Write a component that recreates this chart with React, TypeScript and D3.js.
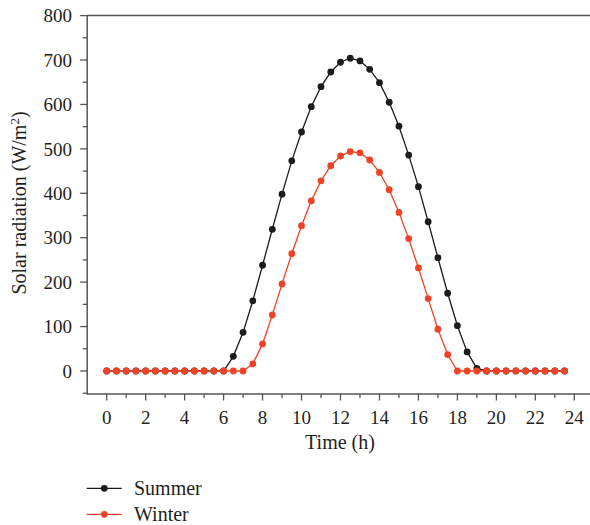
import React from "react";
import * as d3 from "d3";

const hours: number[] = d3.range(0, 24, 0.5);

const summerValues: number[] = [
  0, 0, 0, 0, 0, 0, 0, 0, 0, 0, 0, 0,
  0, 33, 87, 158, 238, 319, 398, 473, 538, 595, 640, 673,
  695, 704, 698, 679, 649, 605, 551, 486, 415, 336, 255, 175,
  102, 43, 6, 0, 0, 0, 0, 0, 0, 0, 0, 0,
];

const winterValues: number[] = [
  0, 0, 0, 0, 0, 0, 0, 0, 0, 0, 0, 0,
  0, 0, 0, 16, 61, 126, 196, 264, 327, 383, 428, 462,
  484, 494, 491, 475, 447, 408, 357, 298, 232, 163, 94, 37,
  0, 0, 0, 0, 0, 0, 0, 0, 0, 0, 0, 0,
];

const xTickLabels: number[] = [0, 2, 4, 6, 8, 10, 12, 14, 16, 18, 20, 22, 24];
const yTickLabels: number[] = [0, 100, 200, 300, 400, 500, 600, 700, 800];

const seriesNames = ["Summer", "Winter"];
const seriesColors = ["#1c1c1c", "#ee4326"];

const W = 590;
const H = 525;
const FONT = "'Liberation Serif', 'Times New Roman', serif";

export default function App() {
  const x = d3.scaleLinear().domain([-1, 24]).range([87.2, 574.3]);
  const y = d3.scaleLinear().domain([-50, 800]).range([393.2, 15.6]);
  const x0 = 87.2;
  const yBottom = 394;
  const yTop = 15.6;
  const right = 600;

  const series = [summerValues, winterValues];
  const line = d3
    .line<[number, number]>()
    .x((d) => x(d[0]))
    .y((d) => y(d[1]));

  const minorX = d3.range(1, 25, 2);
  const minorY = d3.range(-50, 800, 100);
  const axisColor = "#555";

  return (
    <svg
      width={W}
      height={H}
      style={{ position: "absolute", left: 0, top: 0, background: "#fff" }}
      fontFamily={FONT}
    >
      {/* series */}
      {series.map((vals, si) => {
        const pts: [number, number][] = hours.map((h, i) => [h, vals[i]]);
        return (
          <g key={si}>
            <path d={line(pts) || ""} fill="none" stroke={seriesColors[si]} strokeWidth={1.3} />
            {pts.map((p, i) => (
              <circle key={i} cx={x(p[0])} cy={y(p[1])} r={3.4} fill={seriesColors[si]} />
            ))}
          </g>
        );
      })}

      {/* axes */}
      <line x1={x0} x2={right} y1={yTop} y2={yTop} stroke={axisColor} strokeWidth={1.5} />
      <line x1={x0} x2={right} y1={yBottom} y2={yBottom} stroke={axisColor} strokeWidth={1.5} />
      <line x1={x0} x2={x0} y1={yTop - 0.7} y2={yBottom + 0.7} stroke={axisColor} strokeWidth={1.5} />

      {/* x ticks */}
      {xTickLabels.map((t) => (
        <g key={"xt" + t}>
          <line x1={x(t)} x2={x(t)} y1={yBottom} y2={yBottom + 6.5} stroke={axisColor} strokeWidth={1.3} />
          <text x={x(t)} y={424} textAnchor="middle" fontSize={19} fill="#231f20">
            {t}
          </text>
        </g>
      ))}
      {minorX.map((t) => (
        <line key={"xm" + t} x1={x(t)} x2={x(t)} y1={yBottom} y2={yBottom + 4} stroke={axisColor} strokeWidth={1.3} />
      ))}

      {/* y ticks */}
      {yTickLabels.map((t) => (
        <g key={"yt" + t}>
          <line x1={x0 - 7} x2={x0} y1={y(t)} y2={y(t)} stroke={axisColor} strokeWidth={1.3} />
          <text x={72} y={y(t)} dy="0.35em" textAnchor="end" fontSize={19} fill="#231f20">
            {t}
          </text>
        </g>
      ))}
      {minorY.map((t) => (
        <line key={"ym" + t} x1={x0 - 4.5} x2={x0} y1={y(t)} y2={y(t)} stroke={axisColor} strokeWidth={1.3} />
      ))}

      {/* axis labels */}
      <text x={340} y={449} textAnchor="middle" fontSize={20} fill="#231f20">
        Time (h)
      </text>
      <text
        transform={`translate(26, 203) rotate(-90)`}
        textAnchor="middle"
        fontSize={20}
        fill="#231f20"
      >
        Solar radiation (W/m
        <tspan dy={-7} fontSize={13}>2</tspan>
        <tspan dy={7}>)</tspan>
      </text>

      {/* legend */}
      {seriesNames.map((name, i) => {
        const ly = 488.3 + i * 26;
        return (
          <g key={name}>
            <line x1={86.7} x2={121.7} y1={ly} y2={ly} stroke={seriesColors[i]} strokeWidth={1.3} />
            <circle cx={104.3} cy={ly} r={3.4} fill={seriesColors[i]} />
            <text x={134} y={ly} dy="0.35em" fontSize={20} fill="#231f20">
              {name}
            </text>
          </g>
        );
      })}
    </svg>
  );
}
